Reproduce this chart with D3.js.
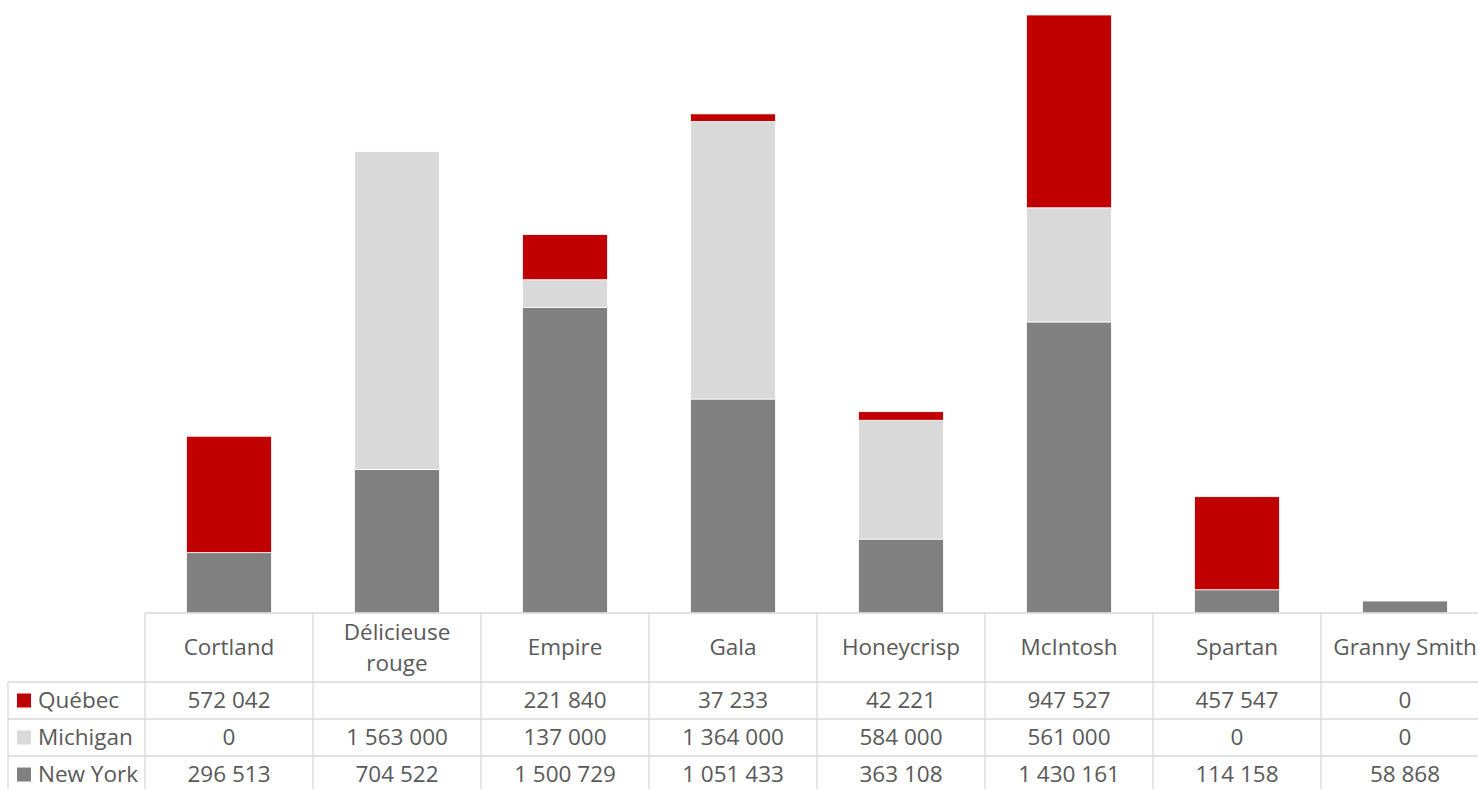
<!DOCTYPE html>
<html>
<head>
<meta charset="utf-8">
<script src="https://cdn.jsdelivr.net/npm/d3@7"></script>
<style>
	body { margin: 0; background: #fff; }
	svg { display: block; font-family: "Open Sans", "Liberation Sans", sans-serif; }
</style>
</head>
<body>
<svg id="chart" width="1478" height="789"></svg>
<script>

var categories = ["Cortland", "Délicieuse rouge", "Empire", "Gala", "Honeycrisp", "McIntosh", "Spartan", "Granny Smith"];
var seriesNames = ["Québec", "Michigan", "New York"];
var quebec = [572042, null, 221840, 37233, 42221, 947527, 457547, 0];
var michigan = [0, 1563000, 137000, 1364000, 584000, 561000, 0, 0];
var newYork = [296513, 704522, 1500729, 1051433, 363108, 1430161, 114158, 58868];
var seriesColors = ["#c00000", "#d9d9d9", "#808080"];

var svg = d3.select("#chart");

var tableLeft = 145, colW = 168, base = 613;
var headerH = 69, rowH = 37;
var legendLeft = 8;

var x = d3.scaleBand()
	.domain(categories)
	.range([tableLeft, tableLeft + colW * categories.length])
	.paddingInner(0)
	.paddingOuter(0);

var y = d3.scaleLinear()
	.domain([0, 3000000])
	.range([base, 2.5]);

// stack bottom-up: New York, Michigan, Québec
var rows = categories.map(function(c, i) {
	return { cat: c, "New York": newYork[i], "Michigan": michigan[i], "Québec": quebec[i] || 0 };
});
var stack = d3.stack().keys(["New York", "Michigan", "Québec"]);
var layers = stack(rows);
var colorOf = d3.scaleOrdinal().domain(seriesNames).range(seriesColors);

var barW = 85;
svg.append("g").selectAll("g")
	.data(layers)
	.enter().append("g")
	.attr("fill", function(d) { return colorOf(d.key); })
	.selectAll("rect")
	.data(function(d) { return d; })
	.enter().filter(function(d) { return d[1] - d[0] > 0; })
	.append("rect")
	.attr("x", function(d) { return x(d.data.cat) + (colW - barW) / 2; })
	.attr("width", barW)
	.attr("y", function(d) { return y(d[1]); })
	.attr("height", function(d) { return y(d[0]) - y(d[1]); })
	.attr("stroke", "#fff")
	.attr("stroke-width", 0.8);

// data table
var grid = svg.append("g").attr("stroke", "#d9d9d9").attr("stroke-width", 1.3);
var right = 1478;
var rowTops = [base + headerH, base + headerH + rowH, base + headerH + 2 * rowH];

grid.append("line").attr("x1", tableLeft).attr("x2", right).attr("y1", base).attr("y2", base);
rowTops.forEach(function(t) {
	grid.append("line").attr("x1", legendLeft).attr("x2", right).attr("y1", t).attr("y2", t);
});
grid.append("line").attr("x1", legendLeft).attr("x2", legendLeft).attr("y1", rowTops[0]).attr("y2", 789);
categories.forEach(function(c) {
	grid.append("line").attr("x1", x(c)).attr("x2", x(c)).attr("y1", base).attr("y2", 789);
});
grid.append("line").attr("x1", x(categories[7]) + colW).attr("x2", x(categories[7]) + colW).attr("y1", base).attr("y2", 789);

var txtColor = "#595959", fs = 22.5;

// header labels
var headerText = svg.append("g").attr("fill", txtColor).attr("font-size", fs).attr("text-anchor", "middle");
categories.forEach(function(c) {
	var cx = x(c) + colW / 2;
	var words = c === "Délicieuse rouge" ? ["Délicieuse", "rouge"] : [c];
	var t = headerText.append("text").attr("x", cx);
	if (words.length === 1) {
		t.attr("y", base + headerH / 2 + 7).text(c);
	} else {
		t.append("tspan").attr("x", cx).attr("y", base + 27).text(words[0]);
		t.append("tspan").attr("x", cx).attr("y", base + 58).text(words[1]);
	}
});

var fmt = function(v) {
	if (v === null) return "";
	return d3.format(",")(v).replace(/,/g, " ");
};

var seriesData = [quebec, michigan, newYork];
seriesNames.forEach(function(name, r) {
	var cy = rowTops[r] + rowH / 2 + 7.5;
	var g = svg.append("g").attr("fill", txtColor).attr("font-size", fs);
	g.append("rect")
		.attr("x", 17).attr("y", rowTops[r] + rowH / 2 - 7)
		.attr("width", 14).attr("height", 14)
		.attr("fill", seriesColors[r]);
	g.append("text").attr("x", 38).attr("y", cy).text(name);
	categories.forEach(function(c, i) {
		g.append("text")
			.attr("x", x(c) + colW / 2)
			.attr("y", cy)
			.attr("text-anchor", "middle")
			.text(fmt(seriesData[r][i]));
	});
});

</script>
</body>
</html>
